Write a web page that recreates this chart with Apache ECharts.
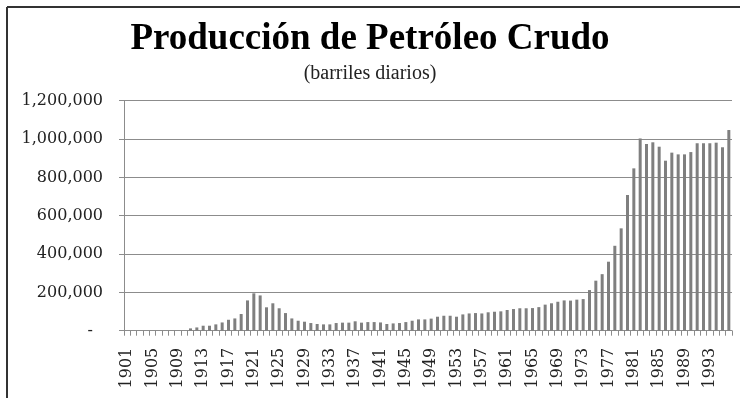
<!DOCTYPE html>
<html>
<head>
<meta charset="utf-8">
<style>
  html, body { margin: 0; padding: 0; background: #ffffff; }
  #chart { width: 740px; height: 398px; }
</style>
<script src="https://cdn.jsdelivr.net/npm/echarts@6/dist/echarts.min.js"></script>
</head>
<body>
<div id="chart"></div>
<script>
// Crude oil production, barrels per day, 1901-1996
const years = [];
for (let y = 1901; y <= 1996; y++) years.push(String(y));

const production = [
  0, 0, 0, 0, 0, 0, 0, 0, 0, 0,                                   // 1901-1910
  12000, 17000, 26000, 26000, 33000, 43000, 57000, 64000, 87000, 158000, // 1911-1920
  195000, 184000, 122000, 143000, 117000, 92000, 64000, 52000, 47000, 40000, // 1921-1930
  35000, 33000, 33000, 40000, 42000, 42000, 49000, 42000, 45000, 45000,     // 1931-1940
  43000, 35000, 38000, 40000, 45000, 52000, 59000, 59000, 63000, 73000,     // 1941-1950
  78000, 78000, 73000, 85000, 90000, 92000, 90000, 96000, 99000, 101000,    // 1951-1960
  108000, 113000, 117000, 117000, 118000, 123000, 136000, 143000, 151000, 158000, // 1961-1970
  157000, 162000, 165000, 212000, 261000, 295000, 360000, 443000, 534000, 708000, // 1971-1980
  847000, 1003000, 974000, 983000, 960000, 887000, 929000, 920000, 920000, 932000, // 1981-1990
  978000, 978000, 978000, 981000, 957000, 1047000                           // 1991-1996
];

const yTicks = [0, 200000, 400000, 600000, 800000, 1000000, 1200000];

const chart = echarts.init(document.getElementById('chart'), null, { renderer: 'canvas' });

const fmt = v => v === 0 ? '{dash|-}' : v.toLocaleString('en-US');

chart.setOption({
  backgroundColor: '#ffffff',
  animation: false,
  title: [
    {
      text: 'Producción de Petróleo Crudo',
      left: 'center',
      top: 16,
      textStyle: { fontFamily: 'Liberation Serif', fontWeight: 'bold', fontSize: 37, color: '#000000' }
    },
    {
      text: '(barriles diarios)',
      left: 'center',
      top: 59,
      textStyle: { fontFamily: 'Liberation Serif', fontWeight: 'normal', fontSize: 20, color: '#222222' }
    }
  ],
  graphic: [
    { type: 'line', shape: { x1: 7, y1: 7, x2: 740, y2: 7 }, style: { stroke: '#333333', lineWidth: 2 } },
    { type: 'line', shape: { x1: 7, y1: 7, x2: 7, y2: 398 }, style: { stroke: '#333333', lineWidth: 2 } }
  ],
  grid: { left: 124, right: 8, top: 100.7, bottom: 67.3, containLabel: false },
  xAxis: {
    type: 'category',
    data: years,
    boundaryGap: true,
    axisLine: { show: true, lineStyle: { color: '#8c8c8c', width: 1 } },
    axisTick: { show: true, interval: 0, length: 5, lineStyle: { color: '#8c8c8c' } },
    axisLabel: {
      interval: 3,
      rotate: 90,
      margin: 17,
      fontFamily: 'DejaVu Serif',
      fontSize: 16,
      color: '#222222'
    },
    splitLine: { show: false }
  },
  yAxis: {
    type: 'value',
    min: yTicks[0],
    max: yTicks[yTicks.length - 1],
    interval: 200000,
    axisLine: { show: true, lineStyle: { color: '#8c8c8c', width: 1 } },
    axisTick: { show: true, length: 5, lineStyle: { color: '#8c8c8c' } },
    axisLabel: {
      margin: 21,
      fontFamily: 'DejaVu Serif',
      fontSize: 16,
      color: '#222222',
      formatter: fmt,
      rich: { dash: { padding: [0, 10, 0, 0], fontFamily: 'DejaVu Serif', fontSize: 16, color: '#222222' } }
    },
    splitLine: { show: true, lineStyle: { color: '#8c8c8c', width: 1 } }
  },
  series: [
    {
      type: 'bar',
      data: production,
      barWidth: 3,
      itemStyle: { color: '#7f7f7f' }
    }
  ]
});
</script>
</body>
</html>
